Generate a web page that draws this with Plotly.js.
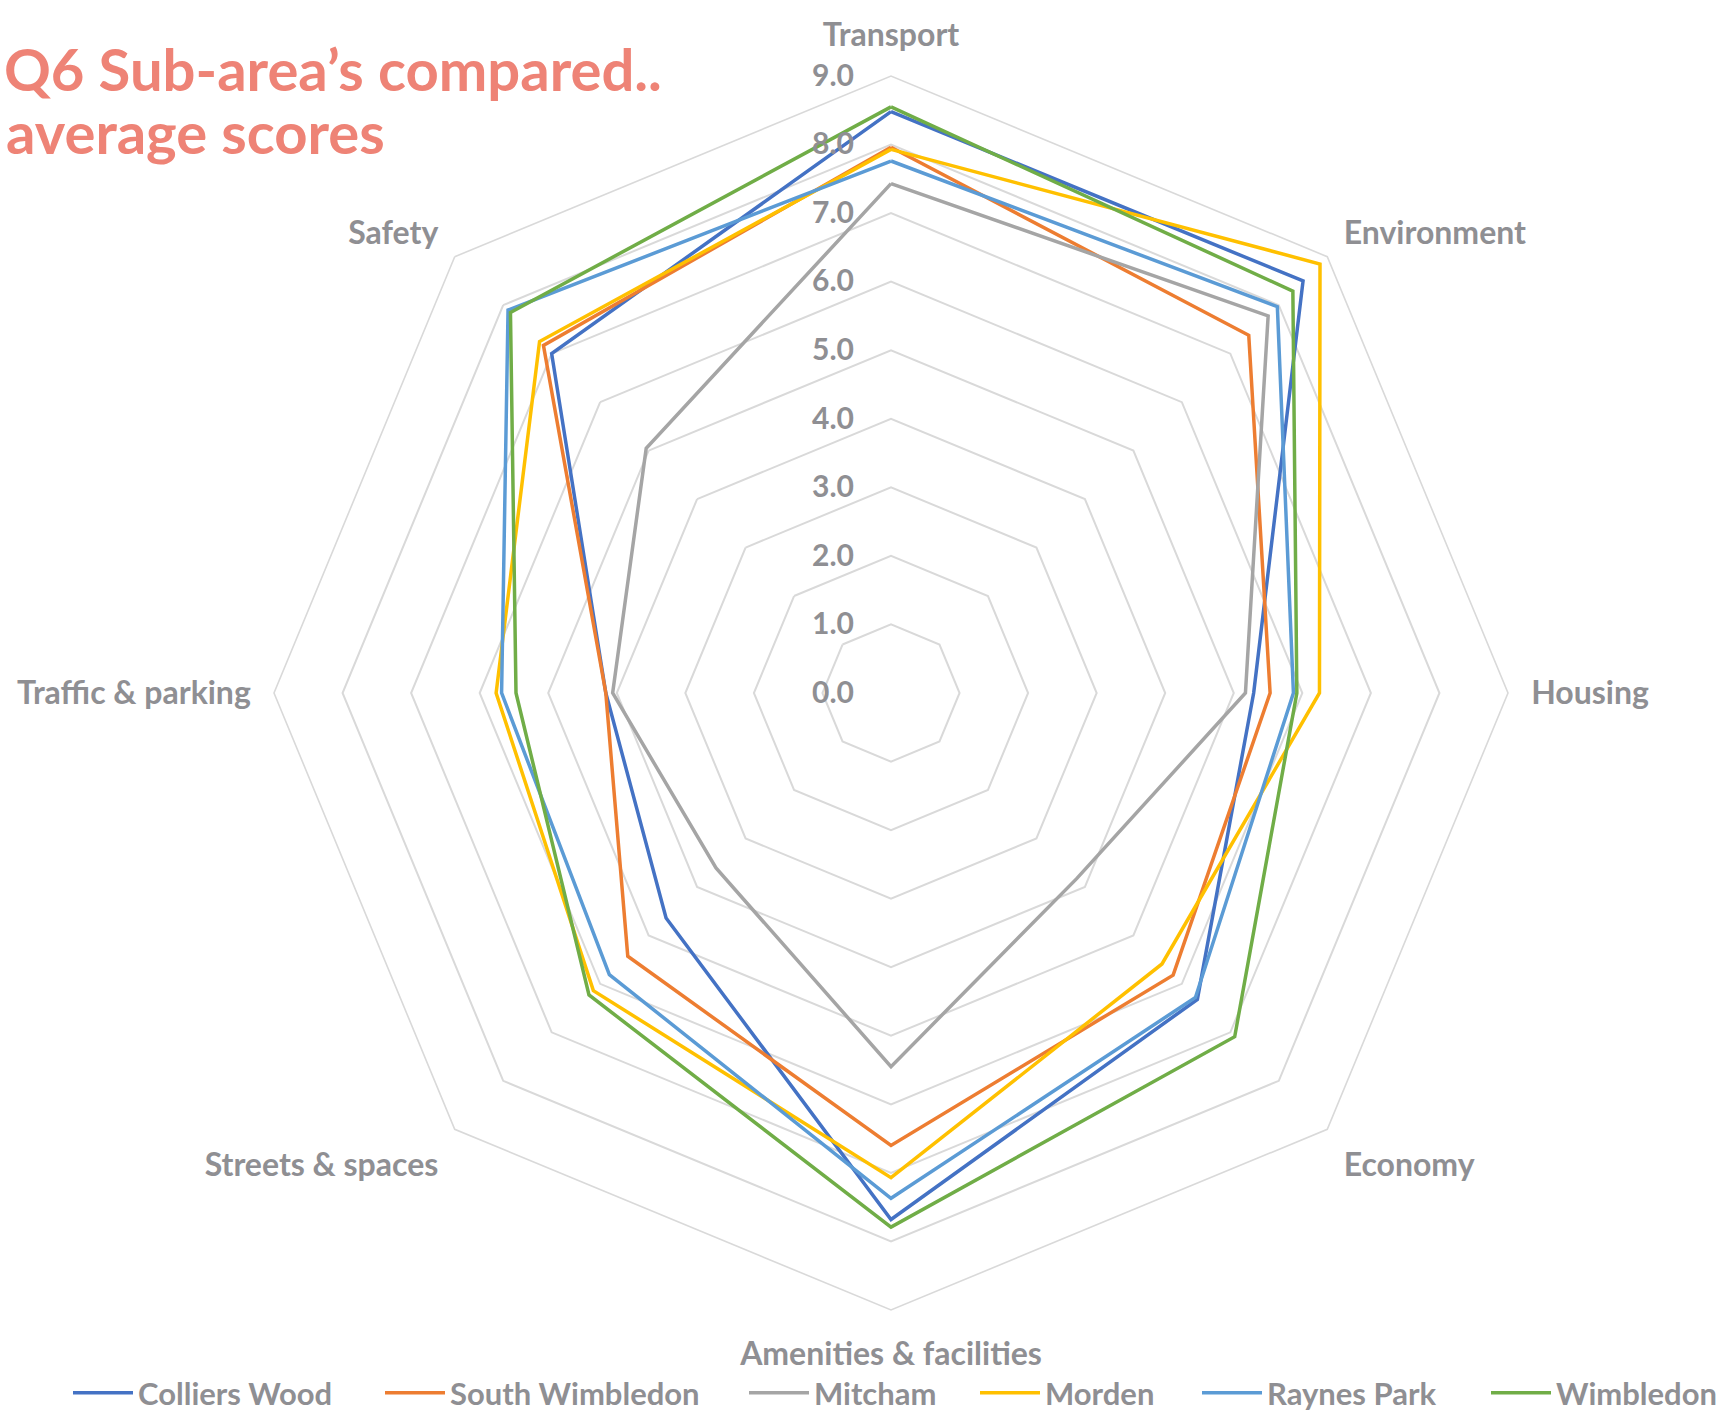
<!DOCTYPE html>
<html>
<head>
<meta charset="utf-8">
<script src="https://cdn.plot.ly/plotly-3.0.1.min.js"></script>
<style>
  html, body { margin: 0; padding: 0; background: #ffffff; }
  #chart { width: 1729px; height: 1420px; }
</style>
</head>
<body>
<div id="chart"></div>
<script>
// ---- data ----
var categories = ['Transport', 'Environment', 'Housing', 'Economy',
  'Amenities & facilities', 'Streets & spaces', 'Traffic & parking', 'Safety'];
var radialTicks = [0, 1, 2, 3, 4, 5, 6, 7, 8, 9];

var seriesNames = ['Colliers Wood', 'South Wimbledon', 'Mitcham', 'Morden', 'Raynes Park', 'Wimbledon'];
var colliersWood    = [8.48, 8.50, 5.29, 6.32, 7.68, 4.64, 4.16, 7.00];
var southWimbledon  = [7.96, 7.38, 5.53, 5.82, 6.60, 5.43, 4.16, 7.17];
var mitcham         = [7.43, 7.78, 5.17, 3.83, 5.45, 3.61, 4.06, 5.05];
var morden          = [7.93, 8.85, 6.25, 5.59, 7.07, 6.14, 5.76, 7.25];
var raynesPark      = [7.76, 7.97, 5.87, 6.28, 7.37, 5.81, 5.68, 7.90];
var wimbledon       = [8.55, 8.29, 5.92, 7.09, 7.79, 6.23, 5.47, 7.85];

// ---- styling ----
var seriesValues = [colliersWood, southWimbledon, mitcham, morden, raynesPark, wimbledon];
var seriesColors = ['#4472C4', '#ED7D31', '#A5A5A5', '#FFC000', '#5B9BD5', '#70AD47'];
var legendTextStart = [138, 450, 814, 1045, 1267, 1556];
var textGray = '#8F8F93';
var gridGray = '#D9D9D9';
var FONT = 'Lato, "Open Sans", sans-serif';

var closedTheta = categories.concat([categories[0]]);
var traces = seriesNames.map(function (name, i) {
  var v = seriesValues[i];
  return {
    type: 'scatterpolar',
    mode: 'lines',
    name: name,
    r: v.concat([v[0]]),
    theta: closedTheta,
    line: { color: seriesColors[i], width: 3.5 },
    legend: i === 0 ? 'legend' : 'legend' + (i + 1),
    hoverinfo: 'name+r+theta'
  };
});

var W = 1729, H = 1420;
var cx = 891, cy = 693, R = 617;
var ITEMW = 60;

var layout = {
  width: W,
  height: H,
  paper_bgcolor: '#ffffff',
  margin: { l: 0, r: 0, t: 0, b: 0, autoexpand: false },
  font: { family: FONT, color: textGray },
  title: {
    text: 'Q6 Sub-area’s compared..',
    x: 4 / W, xanchor: 'left', xref: 'paper',
    y: 1 - 50 / H, yanchor: 'top', yref: 'paper',
    font: { family: FONT, size: 58, color: '#EE8376', weight: 700 }
  },
  annotations: [{
    text: 'average scores',
    xref: 'paper', yref: 'paper',
    x: 4 / W, xanchor: 'left',
    y: 1 - 95 / H, yanchor: 'top',
    showarrow: false,
    font: { family: FONT, size: 58, color: '#EE8376', weight: 700 }
  }],
  polar: {
    domain: { x: [(cx - R) / W, (cx + R) / W], y: [(H - cy - R) / H, (H - cy + R) / H] },
    bgcolor: '#ffffff',
    gridshape: 'linear',
    radialaxis: {
      range: [0, 9],
      tickvals: radialTicks,
      tickformat: '.1f',
      angle: 90,
      side: 'counterclockwise',
      tickangle: 90,
      showline: false,
      ticks: 'outside',
      ticklen: 26,
      tickcolor: 'rgba(0,0,0,0)',
      gridcolor: gridGray,
      gridwidth: 1.6,
      tickfont: { family: FONT, size: 30, color: textGray, weight: 700 }
    },
    angularaxis: {
      rotation: 90,
      direction: 'clockwise',
      showgrid: false,
      showline: true,
      linecolor: gridGray,
      linewidth: 1.6,
      ticks: 'outside',
      ticklen: 16,
      tickcolor: 'rgba(0,0,0,0)',
      tickfont: { family: FONT, size: 32, color: textGray, weight: 700 }
    }
  },
  showlegend: true
};

for (var i = 0; i < seriesNames.length; i++) {
  var key = i === 0 ? 'legend' : 'legend' + (i + 1);
  layout[key] = {
    orientation: 'h',
    x: (legendTextStart[i] - (ITEMW + 10)) / W, xanchor: 'left',
    y: 0, yanchor: 'bottom',
    itemwidth: ITEMW,
    bgcolor: 'rgba(0,0,0,0)',
    font: { family: FONT, size: 31, color: textGray, weight: 700 }
  };
}

Plotly.newPlot('chart', traces, layout, { displayModeBar: false, responsive: false });
</script>
</body>
</html>
